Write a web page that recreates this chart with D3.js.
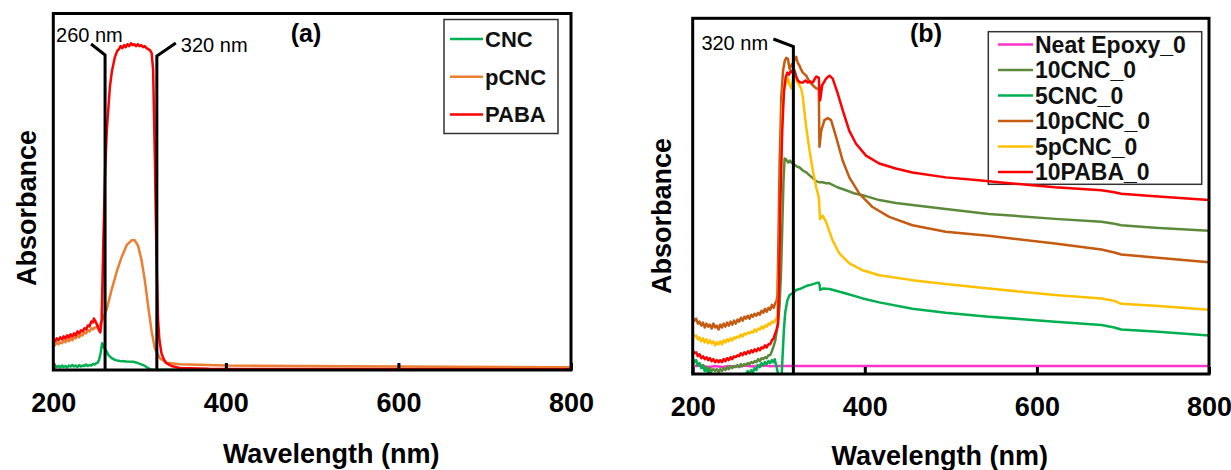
<!DOCTYPE html>
<html>
<head>
<meta charset="utf-8">
<script src="https://cdn.jsdelivr.net/npm/d3@7"></script>
<style>
  html, body { margin: 0; padding: 0; background: #ffffff; }
  svg { display: block; font-family: "Liberation Sans", Arial, sans-serif; }
</style>
</head>
<body>
<svg id="chart" width="1231" height="470"></svg>
<script>
// ---------------- DATA ----------------
const xTicks = [200, 400, 600, 800];

// Panel (a)
const seriesA_names = ["CNC", "pCNC", "PABA"];
const seriesA_colors = ["#00b050", "#ed7d31", "#ff0000"];
const a_CNC = [[200,0.03],[202,0.045],[204,0.03],[206,0.04],[208,0.025],[210,0.045],[212,0.03],[214,0.04],[216,0.025],[218,0.045],[220,0.035],[222,0.05],[224,0.035],[226,0.045],[228,0.03],[230,0.05],[232,0.035],[234,0.045],[236,0.04],[238,0.055],[240,0.04],[242,0.05],[244,0.045],[246,0.06],[248,0.055],[250,0.07],[251.5,0.075],[253,0.10],[255,0.18],[256.6,0.27],[258,0.25],[260,0.21],[261.8,0.185],[264,0.15],[267.6,0.12],[272,0.10],[277.2,0.09],[285,0.085],[292.6,0.084],[298,0.07],[304.2,0.05],[308,0.03],[312,0.007],[316,0.0],[330,0.003],[800,0.003]];
const a_pCNC = [[200,0.27],[202,0.25],[204,0.28],[206,0.26],[208,0.28],[210,0.27],[212,0.30],[214,0.28],[216,0.31],[218,0.29],[220,0.32],[222,0.30],[224,0.33],[226,0.32],[228,0.35],[230,0.33],[232,0.36],[234,0.35],[236,0.38],[238,0.37],[240,0.40],[242,0.39],[244,0.42],[246,0.41],[248,0.43],[250,0.43],[252,0.44],[255,0.47],[258,0.53],[261.8,0.61],[267.6,0.81],[273.4,0.99],[279.2,1.14],[285,1.26],[290.6,1.31],[294.5,1.31],[298.4,1.25],[302.2,1.11],[306,0.91],[310,0.64],[313.8,0.40],[317.6,0.22],[323.4,0.12],[331,0.074],[346.5,0.058],[400,0.045],[600,0.035],[800,0.028]];
const a_PABA = [[200,0.31],[202,0.29],[204,0.32],[206,0.30],[208,0.33],[210,0.31],[212,0.34],[214,0.32],[216,0.35],[218,0.33],[220,0.36],[222,0.34],[224,0.37],[226,0.35],[228,0.39],[230,0.37],[232,0.40],[234,0.39],[236,0.42],[238,0.41],[240,0.45],[242,0.44],[244,0.49],[246,0.48],[247,0.52],[249,0.49],[251,0.45],[253,0.40],[254.5,0.38],[256,0.50],[258,1.30],[260,2.00],[262,2.42],[265.6,2.86],[268,3.02],[271.4,3.16],[274,3.22],[276,3.24],[278,3.27],[280,3.25],[282,3.28],[284,3.26],[286,3.29],[288,3.27],[290,3.30],[292,3.28],[294,3.29],[296,3.27],[298,3.29],[300,3.27],[302,3.28],[304,3.26],[306,3.27],[308,3.25],[310,3.24],[312,3.23],[314,3.20],[315.7,3.03],[317.6,2.19],[319.5,1.18],[321.4,0.51],[323,0.30],[325.3,0.17],[328,0.11],[331,0.07],[337,0.04],[346.5,0.02],[380,0.012],[500,0.01],[800,0.008]];
const seriesA_values = [a_CNC, a_pCNC, a_PABA];
const annotA = [260, 320];
const annotA_labels = ["260 nm", "320 nm"];

// Panel (b)
const seriesB_names = ["Neat Epoxy_0", "10CNC_0", "5CNC_0", "10pCNC_0", "5pCNC_0", "10PABA_0"];
const seriesB_colors = ["#ff33cc", "#5b8a3a", "#00b050", "#c55a11", "#ffc000", "#ff0000"];
const b_Neat = [[200,0.09],[205,0.08],[210,0.085],[215,0.075],[220,0.07],[225,0.08],[230,0.075],[235,0.07],[240,0.08],[245,0.075],[250,0.08],[255,0.075],[260,0.085],[265,0.08],[270,0.075],[275,0.085],[280,0.08],[285,0.085],[290,0.078],[295,0.082],[300,0.08],[320,0.082],[400,0.082],[600,0.082],[800,0.082]];
const b_10CNC = [[200,0.16],[202,0.12],[204,0.13],[206,0.09],[208,0.10],[210,0.07],[212,0.09],[214,0.05],[216,0.07],[218,0.04],[220,0.06],[222,0.03],[224,0.05],[226,0.03],[228,0.05],[230,0.02],[232,0.05],[234,0.03],[236,0.06],[238,0.04],[240,0.07],[242,0.05],[244,0.08],[246,0.06],[248,0.08],[250,0.07],[252,0.09],[254,0.07],[256,0.10],[258,0.08],[260,0.10],[262,0.09],[264,0.11],[266,0.10],[268,0.12],[270,0.11],[272,0.13],[274,0.12],[276,0.15],[278,0.13],[280,0.16],[282,0.15],[284,0.17],[286,0.16],[288,0.19],[290,0.19],[292,0.23],[294,0.28],[296,0.34],[297.2,0.41],[299,0.50],[301,0.70],[302.5,1.0],[304,1.45],[305.5,1.95],[306.8,2.18],[308.7,2.17],[311,2.14],[313,2.16],[314.6,2.14],[318,2.12],[321,2.10],[324.2,2.09],[328,2.06],[332,2.04],[335.8,2.01],[340,1.98],[344,1.95],[347.3,1.94],[351,1.94],[355,1.93],[359,1.93],[368,1.89],[378.2,1.86],[387,1.83],[397.5,1.81],[416.8,1.76],[436,1.73],[455.3,1.71],[494,1.67],[544,1.62],[621,1.57],[675,1.54],[690,1.52],[698,1.505],[737,1.48],[800,1.45]];
const b_5CNC = [[200,0.16],[202,0.12],[204,0.14],[206,0.09],[208,0.11],[210,0.06],[212,0.08],[214,0.03],[216,0.05],[218,0.01],[220,0.03],[222,-0.01],[224,0.0],[226,-0.04],[228,-0.06],[232,-0.10],[236,-0.13],[240,-0.16],[245,-0.19],[250,-0.2],[255,-0.12],[258,-0.04],[260,0.0],[262,-0.01],[264,0.03],[266,0.0],[268,0.04],[270,0.02],[272,0.06],[274,0.04],[276,0.09],[278,0.07],[280,0.11],[282,0.09],[284,0.12],[286,0.10],[288,0.13],[290,0.11],[292,0.14],[294,0.12],[295.3,0.15],[297,0.09],[298,0.05],[300.3,-0.05],[301.5,-0.3],[302.5,-0.2],[304,0.1],[306,0.45],[307.5,0.62],[309.9,0.74],[312.6,0.80],[316.5,0.82],[320.3,0.85],[324.2,0.86],[331.9,0.89],[336,0.90],[343.5,0.92],[346.5,0.925],[347.5,0.90],[348.1,0.85],[351.2,0.865],[359,0.86],[378.2,0.815],[397.5,0.765],[416.8,0.725],[455.3,0.66],[494,0.62],[544,0.58],[621,0.53],[675,0.495],[690,0.47],[698,0.45],[737,0.43],[800,0.39]];
const b_10pCNC = [[200,0.57],[202,0.54],[204,0.56],[206,0.51],[208,0.53],[210,0.49],[212,0.52],[214,0.47],[216,0.51],[218,0.48],[220,0.50],[222,0.46],[224,0.51],[226,0.47],[228,0.49],[230,0.45],[232,0.50],[234,0.47],[236,0.51],[238,0.48],[240,0.52],[242,0.49],[244,0.53],[246,0.50],[248,0.54],[250,0.51],[252,0.55],[254,0.53],[256,0.57],[258,0.54],[260,0.58],[262,0.56],[264,0.59],[266,0.56],[268,0.60],[270,0.58],[272,0.61],[274,0.59],[276,0.62],[278,0.60],[280,0.64],[282,0.62],[284,0.66],[286,0.63],[288,0.67],[290,0.65],[292,0.70],[294,0.67],[296,0.72],[297.5,0.74],[298.5,0.80],[299.5,1.29],[301,2.13],[303,2.80],[305,3.07],[307,3.17],[308.7,3.20],[310.6,3.19],[312.6,3.09],[314.5,3.12],[316.5,3.15],[318.4,3.18],[320.3,3.21],[322,3.15],[324.2,3.12],[326,3.08],[328,3.05],[331.9,3.02],[335,2.97],[337.7,2.94],[341,2.91],[343.5,2.89],[346.5,2.89],[347.3,2.30],[349.3,2.46],[353.1,2.57],[357,2.59],[360.8,2.57],[366.6,2.40],[374.3,2.16],[382,1.99],[393.6,1.825],[409,1.69],[428.3,1.59],[455.3,1.505],[494,1.44],[544,1.40],[621,1.32],[675,1.26],[690,1.23],[698,1.21],[737,1.18],[800,1.13]];
const b_5pCNC = [[200,0.41],[202,0.38],[204,0.39],[206,0.35],[208,0.37],[210,0.33],[212,0.36],[214,0.32],[216,0.35],[218,0.31],[220,0.34],[222,0.31],[224,0.33],[226,0.29],[228,0.32],[230,0.30],[232,0.33],[234,0.30],[236,0.34],[238,0.32],[240,0.35],[242,0.33],[244,0.36],[246,0.34],[248,0.37],[250,0.36],[252,0.38],[254,0.37],[256,0.40],[258,0.38],[260,0.41],[262,0.40],[264,0.42],[266,0.41],[268,0.43],[270,0.42],[272,0.45],[274,0.43],[276,0.46],[278,0.45],[280,0.48],[282,0.46],[284,0.49],[286,0.48],[288,0.51],[290,0.50],[292,0.53],[294,0.52],[296,0.55],[297.5,0.56],[298.5,0.60],[300,0.95],[302,1.79],[304,2.63],[306,2.90],[308.7,2.95],[310.6,3.00],[312.5,2.93],[314.6,2.89],[316.5,2.97],[318.4,3.05],[320,2.98],[322.2,2.95],[326.1,2.89],[328,2.80],[331.9,2.50],[335.8,2.26],[339.6,2.06],[343.5,1.89],[346.5,1.79],[348.1,1.57],[351.2,1.60],[355,1.54],[362.7,1.35],[370.4,1.22],[382,1.12],[397.5,1.05],[416.8,1.00],[455.3,0.95],[494,0.91],[544,0.865],[621,0.80],[675,0.765],[690,0.74],[698,0.71],[737,0.69],[800,0.65]];
const b_10PABA = [[200,0.24],[202,0.21],[204,0.22],[206,0.18],[208,0.20],[210,0.16],[212,0.18],[214,0.15],[216,0.17],[218,0.14],[220,0.16],[222,0.13],[224,0.15],[226,0.12],[228,0.14],[230,0.12],[232,0.14],[234,0.12],[236,0.15],[238,0.13],[240,0.16],[242,0.14],[244,0.17],[246,0.15],[248,0.18],[250,0.17],[252,0.19],[254,0.18],[256,0.21],[258,0.19],[260,0.22],[262,0.20],[264,0.23],[266,0.21],[268,0.24],[270,0.22],[272,0.25],[274,0.23],[276,0.26],[278,0.24],[280,0.27],[282,0.26],[284,0.29],[286,0.27],[288,0.30],[290,0.30],[292,0.34],[294,0.36],[295.5,0.40],[297.5,0.45],[299.1,0.51],[300.5,1.0],[302,1.79],[304,2.46],[306,2.85],[308,3.00],[310,3.05],[312,3.03],[314,3.07],[316,3.05],[318.4,3.07],[320,3.02],[322.2,2.97],[325,2.95],[328,2.95],[331,2.97],[333.8,2.95],[336,2.96],[339.6,2.95],[342,2.99],[343.5,3.01],[346.5,3.00],[348.1,2.77],[350.4,2.92],[355,2.99],[358.9,3.02],[362.7,2.99],[368.5,2.84],[374.3,2.67],[382,2.46],[389.8,2.33],[401.4,2.21],[416.8,2.13],[436,2.08],[455.3,2.04],[494,1.99],[532.5,1.96],[555.7,1.94],[621,1.89],[675,1.86],[690,1.84],[698,1.825],[737,1.80],[800,1.76]];
const seriesB_values = [b_Neat, b_10CNC, b_5CNC, b_10pCNC, b_5pCNC, b_10PABA];
const annotB = [317];
const annotB_labels = ["320 nm"];

// ---------------- DRAW ----------------
const svg = d3.select("#chart");
const FONT = '"Liberation Sans", Arial, sans-serif';

function panel(cfg) {
  const x = d3.scaleLinear().domain([200, 800]).range([cfg.left, cfg.right]);
  const y = d3.scaleLinear().domain([0, 3.6]).range([cfg.bottom, cfg.top]);
  const g = svg.append("g");

  const clipId = "clip-" + cfg.id;
  svg.append("defs").append("clipPath").attr("id", clipId)
    .append("rect").attr("x", cfg.left).attr("y", cfg.top)
    .attr("width", cfg.right - cfg.left).attr("height", cfg.bottom - cfg.top);

  // legend box (drawn beneath curves)
  const lg = g.append("g");
  lg.append("rect").attr("x", cfg.legend.x).attr("y", cfg.legend.y)
    .attr("width", cfg.legend.w).attr("height", cfg.legend.h)
    .attr("fill", "#ffffff").attr("stroke", "#333333").attr("stroke-width", 1.5);
  cfg.names.forEach((n, i) => {
    const cy = cfg.legend.row0 + i * cfg.legend.step;
    lg.append("line").attr("x1", cfg.legend.lx1).attr("x2", cfg.legend.lx2)
      .attr("y1", cy).attr("y2", cy).attr("stroke", cfg.colors[i]).attr("stroke-width", 2.5);
    lg.append("text").attr("x", cfg.legend.tx).attr("y", cy).attr("dy", "0.36em")
      .attr("font-family", FONT).attr("font-weight", "bold").attr("font-size", cfg.legend.fs)
      .attr("fill", "#111").text(n);
  });

  // curves
  const line = d3.line().x(d => x(d[0])).y(d => y(d[1]));
  const cg = g.append("g").attr("clip-path", `url(#${clipId})`);
  cfg.values.forEach((vals, i) => {
    cg.append("path").datum(vals).attr("d", line)
      .attr("fill", "none").attr("stroke", cfg.colors[i])
      .attr("stroke-width", 2.5).attr("stroke-linejoin", "round");
  });

  // x axis (inward ticks)
  const ax = d3.axisBottom(x).tickValues(xTicks).tickSizeInner(-7).tickSizeOuter(0).tickPadding(23)
    .tickFormat(d3.format("d"));
  const axg = g.append("g").attr("transform", `translate(0,${cfg.bottom})`).call(ax);
  axg.select(".domain").remove();
  axg.selectAll(".tick line").attr("stroke", "#000").attr("stroke-width", 3);
  axg.selectAll(".tick text").attr("font-family", FONT).attr("font-weight", "bold")
    .attr("font-size", 27).attr("fill", "#000");

  // frame
  g.append("rect").attr("x", cfg.left).attr("y", cfg.top)
    .attr("width", cfg.right - cfg.left).attr("height", cfg.bottom - cfg.top)
    .attr("fill", "none").attr("stroke", "#000").attr("stroke-width", 3);

  // annotations
  cfg.annot.forEach((a, i) => {
    const ax0 = x(a);
    const p = cfg.annotLeaders[i];
    g.append("path")
      .attr("d", `M${ax0 + p.dx},${p.y0 - p.dy} L${ax0},${p.y0} L${ax0},${cfg.bottom}`)
      .attr("fill", "none").attr("stroke", "#000").attr("stroke-width", 3).attr("stroke-linejoin", "miter");
    g.append("text").attr("x", ax0 + p.tx).attr("y", p.ty)
      .attr("text-anchor", p.anchor)
      .attr("font-family", FONT).attr("font-size", 20).attr("fill", "#000").text(cfg.annotLabels[i]);
  });

  // panel title
  g.append("text").attr("x", cfg.titleX).attr("y", 42).attr("text-anchor", "middle")
    .attr("font-family", FONT).attr("font-weight", "bold").attr("font-size", 25).attr("fill", "#000")
    .text(cfg.title);

  // axis titles
  g.append("text").attr("x", (cfg.left + cfg.right) / 2 + cfg.xTitleShift).attr("y", cfg.xTitleY)
    .attr("text-anchor", "middle").attr("font-family", FONT).attr("font-weight", "bold")
    .attr("font-size", 27).attr("fill", "#000").text("Wavelength (nm)");
  g.append("text").attr("transform", `translate(${cfg.yTitleX},${cfg.yTitleCY}) rotate(-90)`)
    .attr("text-anchor", "middle").attr("font-family", FONT).attr("font-weight", "bold")
    .attr("font-size", 27).attr("fill", "#000").text("Absorbance");
}

panel({
  id: "a", left: 53.3, right: 571, top: 13.5, bottom: 370,
  names: seriesA_names, colors: seriesA_colors, values: seriesA_values,
  legend: { x: 444, y: 19.5, w: 114, h: 114, row0: 39, step: 37.7, lx1: 450, lx2: 483, tx: 485, fs: 22 },
  annot: annotA, annotLabels: annotA_labels,
  annotLeaders: [
    { dx: -14, dy: 11, y0: 55, tx: -49, ty: 42, anchor: "start" },
    { dx: 19, dy: 13, y0: 56, tx: 24, ty: 52, anchor: "start" }
  ],
  title: "(a)", titleX: 306, xTitleShift: 19, xTitleY: 463, yTitleX: 36, yTitleCY: 208
});

panel({
  id: "b", left: 692.7, right: 1209, top: 18.3, bottom: 374,
  names: seriesB_names, colors: seriesB_colors, values: seriesB_values,
  legend: { x: 988.3, y: 31.7, w: 213.4, h: 152.6, row0: 44.5, step: 25.5, lx1: 998, lx2: 1033, tx: 1035, fs: 23 },
  annot: annotB, annotLabels: annotB_labels,
  annotLeaders: [
    { dx: -20, dy: 7.5, y0: 46.5, tx: -92, ty: 50, anchor: "start" }
  ],
  title: "(b)", titleX: 926, xTitleShift: -11, xTitleY: 465, yTitleX: 671, yTitleCY: 216
});
</script>
</body>
</html>
